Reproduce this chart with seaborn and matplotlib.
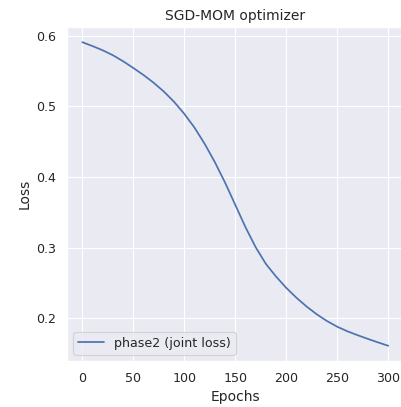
import numpy as np
import pandas as pd
import matplotlib
matplotlib.use("Agg")
import matplotlib.pyplot as plt
import seaborn as sns

sns.set_theme(style="darkgrid")

# loss, every 10 epochs
epochs = [0, 10, 20, 30, 40, 50, 60, 70, 80, 90, 100,
          110, 120, 130, 140, 150, 160, 170, 180, 190, 200,
          210, 220, 230, 240, 250, 260, 270, 280, 290, 300]
loss = [0.5910, 0.5855, 0.5795, 0.5725, 0.5640, 0.5545, 0.5445, 0.5335, 0.5210, 0.5065, 0.4895,
        0.4700, 0.4470, 0.4210, 0.3920, 0.3605, 0.3290, 0.3005, 0.2770, 0.2590, 0.2430,
        0.2290, 0.2165, 0.2055, 0.1960, 0.1880, 0.1815, 0.1760, 0.1708, 0.1658, 0.1610]

df = pd.DataFrame({"Epochs": epochs, "Loss": loss})

dpi = 83
fig = plt.figure(figsize=(401 / dpi, 407 / dpi), dpi=dpi)
ax = fig.add_axes([67 / 401, (407 - 361) / 407, (403.6 - 67) / 401, (361 - 27) / 407])

sns.lineplot(data=df, x="Epochs", y="Loss", ax=ax, label="phase2 (joint loss)")
ax.set_title("SGD-MOM optimizer")
ax.set_xlabel("Epochs")
ax.set_ylabel("Loss")
ax.set_xticks([0, 50, 100, 150, 200, 250, 300])
ax.set_yticks([0.2, 0.3, 0.4, 0.5, 0.6])
ax.legend(loc="lower left")

fig.savefig("out.png", dpi=dpi)
